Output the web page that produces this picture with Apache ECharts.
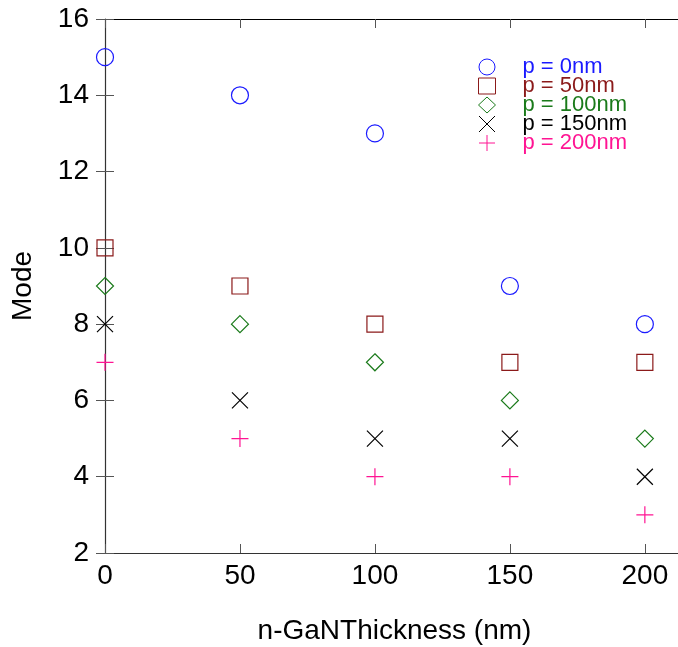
<!DOCTYPE html>
<html>
<head>
<meta charset="utf-8">
<script src="https://cdn.jsdelivr.net/npm/echarts@6/dist/echarts.min.js"></script>
<style>
  html, body { margin: 0; padding: 0; background: #fff; }
  #chart { width: 678px; height: 647px; }
</style>
</head>
<body>
<div id="chart"></div>
<script>
// n-GaN thickness (nm) on the x axis
const thickness = [0, 50, 100, 150, 200];

// Mode count for each p-layer thickness
const seriesNames = ['p = 0nm', 'p = 50nm', 'p = 100nm', 'p = 150nm', 'p = 200nm'];
const modeP0   = [15, 14, 13, 9, 8];
const modeP50  = [10, 9, 8, 7, 7];
const modeP100 = [9, 8, 7, 6, 5];
const modeP150 = [8, 6, 5, 5, 4];
const modeP200 = [7, 5, 4, 4, 3];

const yTicks = [2, 4, 6, 8, 10, 12, 14, 16];
const xTicks = [0, 50, 100, 150, 200];

const FONT = '"Liberation Sans", Arial, Helvetica, sans-serif';

const styles = [
  { color: '#1a1aff', symbol: 'circle', size: 17 },
  { color: '#8b1a1a', symbol: 'rect', size: 16 },
  { color: '#1a7a1a', symbol: 'diamond', size: 17 },
  { color: '#000000', symbol: 'path://M0,0L10,10M10,0L0,10', size: 16 },
  { color: '#ff1493', symbol: 'path://M5,0L5,10M0,5L10,5', size: 17 }
];

const values = [modeP0, modeP50, modeP100, modeP150, modeP200];

const series = values.map((vals, i) => ({
  name: seriesNames[i],
  type: 'scatter',
  data: thickness.map((x, j) => [x, vals[j]]),
  symbol: styles[i].symbol,
  symbolSize: styles[i].size,
  itemStyle: {
    color: 'rgba(0,0,0,0)',
    borderColor: styles[i].color,
    borderWidth: 1.2,
    opacity: 1
  },
  emphasis: { disabled: true },
  z: 5
}));

const chart = echarts.init(document.getElementById('chart'), null, { renderer: 'canvas' });

const axisLineStyle = { color: '#333', width: 1.2 };

chart.setOption({
  animation: false,
  backgroundColor: '#fff',
  grid: {
    left: 105, right: -6, top: 19, bottom: 94,
    containLabel: false,
    outerBoundsMode: 'none'
  },
  legend: {
    orient: 'vertical',
    left: 473,
    top: 51,
    itemWidth: 17,
    itemHeight: 16,
    itemGap: -3,
    selectedMode: false,
    itemStyle: { borderWidth: 1 },
    data: seriesNames.map((n, i) => ({
      name: n,
      textStyle: { color: styles[i].color }
    })),
    textStyle: { fontFamily: FONT, fontSize: 22, padding: [0, 0, 0, 22] }
  },
  xAxis: [
    {
      type: 'value',
      min: 0,
      max: 214.5,
      interval: 50,
      position: 'bottom',
      name: 'n-GaNThickness (nm)',
      nameLocation: 'middle',
      nameGap: 64,
      nameTextStyle: { fontFamily: FONT, fontSize: 28, color: '#000' },
      axisLine: { show: true, lineStyle: axisLineStyle },
      axisTick: { show: true, inside: true, length: 9, lineStyle: { color: '#555' } },
      axisLabel: {
        fontFamily: FONT, fontSize: 28, color: '#000', margin: 9,
        formatter: v => (xTicks.indexOf(v) >= 0 ? String(v) : '')
      },
      splitLine: { show: false }
    },
    {
      type: 'value',
      min: 0,
      max: 214.5,
      interval: 50,
      position: 'top',
      axisLine: { show: true, lineStyle: { color: '#000', width: 1.2 } },
      axisTick: { show: true, inside: true, length: 9, lineStyle: { color: '#555' } },
      axisLabel: { show: false },
      splitLine: { show: false }
    }
  ],
  yAxis: [
    {
      type: 'value',
      min: 2,
      max: 16,
      interval: 2,
      position: 'left',
      name: 'Mode',
      nameLocation: 'middle',
      nameGap: 68,
      nameTextStyle: { fontFamily: FONT, fontSize: 28, color: '#000' },
      axisLine: { show: true, lineStyle: axisLineStyle },
      axisTick: { show: true, inside: true, length: 9, lineStyle: { color: '#555' } },
      axisLabel: {
        fontFamily: FONT, fontSize: 28, color: '#000', margin: 16,
        formatter: v => (yTicks.indexOf(v) >= 0 ? String(v) : '')
      },
      splitLine: { show: false }
    },
    {
      type: 'value',
      min: 2,
      max: 16,
      interval: 2,
      position: 'right',
      axisLine: { show: false },
      axisTick: { show: true, inside: true, length: 9, lineStyle: { color: '#555' } },
      axisLabel: { show: false },
      splitLine: { show: false }
    }
  ],
  series: series
});
</script>
</body>
</html>
